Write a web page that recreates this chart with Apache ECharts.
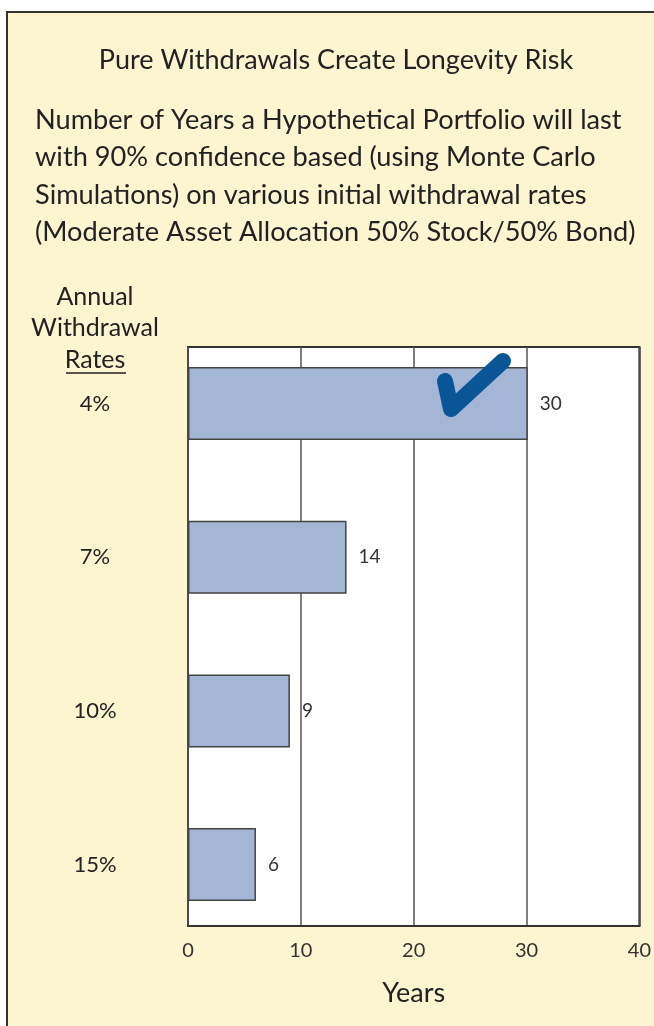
<!DOCTYPE html>
<html><head><meta charset="utf-8">
<script src="https://cdn.jsdelivr.net/npm/echarts@6/dist/echarts.min.js"></script>
<style>html,body{margin:0;padding:0;background:#fff}#c{width:654px;height:1026px}</style>
</head><body><div id="c"></div>
<script>
const categories = ['4%', '7%', '10%', '15%'];
const years = [30, 14, 9, 6];
const xTicks = [0, 10, 20, 30, 40];
const titleText = 'Pure Withdrawals Create Longevity Risk';
const subtitleLines = ['Number of Years a Hypothetical Portfolio will last', 'with 90% confidence based (using Monte Carlo', 'Simulations) on various initial withdrawal rates', '(Moderate Asset Allocation 50% Stock/50% Bond)'];
const yAxisTitle = ['Annual', 'Withdrawal', 'Rates'];
const xAxisTitle = 'Years';

const FONT = 'Lato';
const chart = echarts.init(document.getElementById('c'), null, {renderer: 'canvas'});
const graphics = [
  {type: 'rect', z: -10, shape: {x: 7, y: 12, width: 700, height: 1100}, style: {fill: '#fdf4d0', stroke: '#333', lineWidth: 2}},
  {type: 'text', x: 336, y: 60, style: {text: titleText, font: '27px ' + FONT, fill: '#222', align: 'center', verticalAlign: 'middle'}},
  {type: 'text', x: 35, y: 101, style: {text: subtitleLines.join('\n'), font: '27.2px ' + FONT, fill: '#222', lineHeight: 37.5, align: 'left', verticalAlign: 'top'}},
  {type: 'text', x: 95, y: 281, style: {text: yAxisTitle.join('\n'), font: '25px ' + FONT, fill: '#222', lineHeight: 31.5, align: 'center', verticalAlign: 'top'}},
  {type: 'line', shape: {x1: 66, y1: 373, x2: 126, y2: 373}, style: {stroke: '#222', lineWidth: 1.5}},
  {type: 'polyline', z: 100, shape: {points: [[445, 381], [451, 409], [503, 361]]}, style: {stroke: '#0a5596', lineWidth: 16, lineCap: 'round', lineJoin: 'round', fill: null}}
];
chart.setOption({
  animation: false,
  backgroundColor: 'transparent',
  graphic: graphics,
  grid: [
    {left: 188, right: 13, top: 347, bottom: 100, show: true, backgroundColor: '#fff', borderColor: '#333', borderWidth: 2, z: 0},
    {left: 188, right: 13, top: 326.7, height: 614.7, show: false}
  ],
  xAxis: [
    {gridIndex: 0, type: 'value', min: xTicks[0], max: xTicks[xTicks.length - 1], interval: 10,
     name: xAxisTitle, nameLocation: 'middle', nameGap: 54, nameTextStyle: {fontSize: 27, color: '#222', fontFamily: FONT},
     axisLine: {show: true, lineStyle: {color: '#333', width: 2}}, axisTick: {show: false},
     axisLabel: {fontSize: 20, color: '#333', fontFamily: FONT, margin: 15},
     splitLine: {show: true, lineStyle: {color: '#555', width: 1.5}}},
    {gridIndex: 1, type: 'value', min: xTicks[0], max: xTicks[xTicks.length - 1], show: false}
  ],
  yAxis: [
    {gridIndex: 0, type: 'category', data: categories, show: false},
    {gridIndex: 1, type: 'category', data: categories, inverse: true,
     axisLine: {show: false}, axisTick: {show: false}, splitLine: {show: false},
     axisLabel: {fontSize: 22, color: '#222', fontFamily: FONT, margin: 93, align: 'center', padding: [18, 0, 0, 0]}}
  ],
  series: [{
    type: 'bar', xAxisIndex: 1, yAxisIndex: 1, data: years, barWidth: 73, z: 5,
    itemStyle: {color: '#a4b6d6', borderColor: '#444', borderWidth: 1.5},
    label: {show: true, position: 'right', distance: 12, fontSize: 19, color: '#333', fontFamily: FONT}
  }]
});
</script></body></html>
